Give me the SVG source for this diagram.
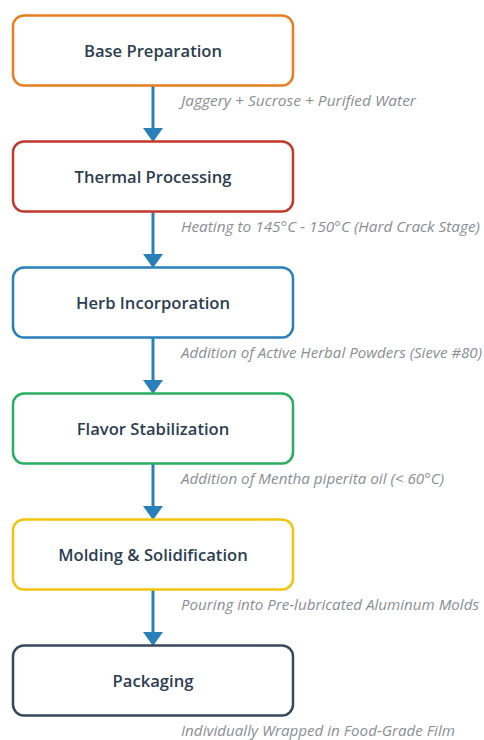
<svg xmlns="http://www.w3.org/2000/svg" width="484" height="740" viewBox="0 0 484 740">
<style>
.box{fill:#fff;stroke-width:2.5}
.t{font-family:"Open Sans","Noto Sans",sans-serif;font-size:16.6px;font-weight:600;fill:#2c3e50;text-anchor:middle}
.l{font-family:"Open Sans","Noto Sans",sans-serif;font-size:15px;font-style:italic;fill:#8a8f94}
.c{stroke:#2980b9;stroke-width:3;fill:none}
.ah{fill:#2980b9}
</style>
<g id="connectors">
<line class="c" x1="153" y1="86" x2="153" y2="129"/><polygon class="ah" points="143,128 163,128 153,142"/>
<line class="c" x1="153" y1="212" x2="153" y2="255"/><polygon class="ah" points="143,254 163,254 153,268"/>
<line class="c" x1="153" y1="338" x2="153" y2="381"/><polygon class="ah" points="143,380 163,380 153,394"/>
<line class="c" x1="153" y1="464" x2="153" y2="507"/><polygon class="ah" points="143,506 163,506 153,520"/>
<line class="c" x1="153" y1="590" x2="153" y2="633"/><polygon class="ah" points="143,632 163,632 153,646"/>
</g>
<g id="n1"><rect class="box" x="13" y="15.5" width="280" height="70" rx="11" stroke="#e67e22"/><text class="t" x="153" y="57">Base Preparation</text></g>
<g id="n2"><rect class="box" x="13" y="141.5" width="280" height="70" rx="11" stroke="#c0392b"/><text class="t" x="153" y="183">Thermal Processing</text></g>
<g id="n3"><rect class="box" x="13" y="267.5" width="280" height="70" rx="11" stroke="#2980b9"/><text class="t" x="153" y="309">Herb Incorporation</text></g>
<g id="n4"><rect class="box" x="13" y="393.5" width="280" height="70" rx="11" stroke="#27ae60"/><text class="t" x="153" y="435">Flavor Stabilization</text></g>
<g id="n5"><rect class="box" x="13" y="519.5" width="280" height="70" rx="11" stroke="#f1c40f"/><text class="t" x="153" y="561">Molding &amp; Solidification</text></g>
<g id="n6"><rect class="box" x="13" y="645.5" width="280" height="70" rx="11" stroke="#34495e"/><text class="t" x="153" y="687">Packaging</text></g>
<g id="labels">
<text class="l" x="181" y="106" textLength="235" lengthAdjust="spacingAndGlyphs">Jaggery + Sucrose + Purified Water</text>
<text class="l" x="181" y="232" textLength="299" lengthAdjust="spacingAndGlyphs">Heating to 145°C - 150°C (Hard Crack Stage)</text>
<text class="l" x="181" y="358" textLength="301" lengthAdjust="spacingAndGlyphs">Addition of Active Herbal Powders (Sieve #80)</text>
<text class="l" x="181" y="484" textLength="263" lengthAdjust="spacingAndGlyphs">Addition of Mentha piperita oil (&lt; 60°C)</text>
<text class="l" x="181" y="610" textLength="298" lengthAdjust="spacingAndGlyphs">Pouring into Pre-lubricated Aluminum Molds</text>
<text class="l" x="181" y="736" textLength="274" lengthAdjust="spacingAndGlyphs">Individually Wrapped in Food-Grade Film</text>
</g>
</svg>
